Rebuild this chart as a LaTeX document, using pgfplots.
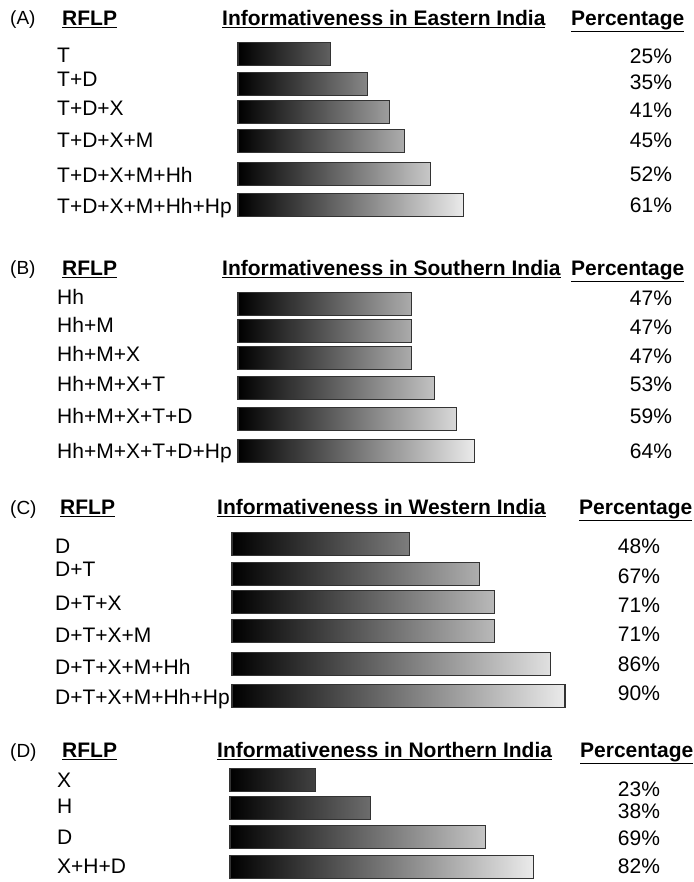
\documentclass[border=0pt]{standalone}
\usepackage{fontspec}
\setmainfont{Liberation Sans}
\usepackage{pgfplots}
\pgfplotsset{compat=1.18}
\newcommand\fnt{\fontsize{21}{25}\selectfont}
\newcommand\lab[3]{\node[anchor=base west, inner sep=0pt, font=\fnt] at (#1pt,{-(#2+7.5)*1pt}) {#3};}
\newcommand\pct[3]{\node[anchor=base, inner sep=0pt, font=\fnt] at (#1pt,{-(#2+7.5)*1pt}) {#3};}
\newcommand\hd[3]{\node[anchor=base west, inner sep=0pt, font=\bfseries\fnt] at (#1pt,{-(#2+7.5)*1pt}) {\underline{#3}};}
\newcommand\pan[3]{\node[anchor=base west, inner sep=0pt, font=\fontsize{19}{23}\selectfont] at (#1pt,{-(#2+7)*1pt}) {#3};}
\pgfplotsset{panel/.style={hide axis, xbar, y dir=reverse, x=3.7pt, y=1pt,
  xmin=0, xmax=120, ymin=0, ymax=882, enlargelimits=false,
  anchor=north west, clip=false, bar width=23pt},
  gbar/.style={draw=black!80, line width=1.1pt, left color=black, right color=white!92!black}}
\begin{document}
\begin{tikzpicture}
\useasboundingbox (0pt,0pt) rectangle (693pt,-882pt);
% Panel A
\begin{axis}[panel, at={(238pt,0pt)}]
\addplot[gbar] coordinates {(25,54) (35,84) (41,112) (45,141) (52,174) (61,205)};
\end{axis}
% Panel B
\begin{axis}[panel, at={(238pt,0pt)}]
\addplot[gbar] coordinates {(47,304) (47,331) (47,358) (53,388) (59,419) (64,451)};
\end{axis}
% Panel C
\begin{axis}[panel, at={(232pt,0pt)}]
\addplot[gbar] coordinates {(48,544) (67,574) (71,602) (71,631) (86,664) (90,696)};
\end{axis}
% Panel D
\begin{axis}[panel, at={(230pt,0pt)}]
\addplot[gbar] coordinates {(23,780) (38,808) (69,837) (82,867)};
\end{axis}
% Headers
\pan{10}{18}{(A)} \hd{62}{18}{RFLP} \hd{222}{18}{Informativeness in Eastern India} \hd{571}{18}{Percentage}
\pan{10}{268}{(B)} \hd{62}{268}{RFLP} \hd{222}{268}{Informativeness in Southern India} \hd{571}{268}{Percentage}
\pan{10}{507}{(C)} \hd{60}{507}{RFLP} \hd{217}{507}{Informativeness in Western India} \hd{579}{507}{Percentage}
\pan{10}{750}{(D)} \hd{62}{750}{RFLP} \hd{217}{750}{Informativeness in Northern India} \hd{580}{750}{Percentage}
% Labels A
\lab{57}{55}{T} \lab{57}{79}{T+D} \lab{57}{108}{T+D+X} \lab{57}{140}{T+D+X+M} \lab{57}{175}{T+D+X+M+Hh} \lab{57}{206}{T+D+X+M+Hh+Hp}
\pct{651}{56}{25\%} \pct{651}{82}{35\%} \pct{651}{110}{41\%} \pct{651}{140}{45\%} \pct{651}{174}{52\%} \pct{651}{205}{61\%}
% Labels B
\lab{57}{297}{Hh} \lab{57}{325}{Hh+M} \lab{57}{354}{Hh+M+X} \lab{57}{384}{Hh+M+X+T} \lab{57}{416}{Hh+M+X+T+D} \lab{57}{451}{Hh+M+X+T+D+Hp}
\pct{651}{298}{47\%} \pct{651}{327}{47\%} \pct{651}{356}{47\%} \pct{651}{384}{53\%} \pct{651}{416}{59\%} \pct{651}{451}{64\%}
% Labels C
\lab{55}{546}{D} \lab{55}{569}{D+T} \lab{55}{603}{D+T+X} \lab{55}{635}{D+T+X+M} \lab{55}{667}{D+T+X+M+Hh} \lab{55}{697}{D+T+X+M+Hh+Hp}
\pct{639}{546}{48\%} \pct{639}{576}{67\%} \pct{639}{605}{71\%} \pct{639}{634}{71\%} \pct{639}{664}{86\%} \pct{639}{693}{90\%}
% Labels D
\lab{57}{780}{X} \lab{57}{806}{H} \lab{57}{837}{D} \lab{57}{866}{X+H+D}
\pct{639}{789}{23\%} \pct{639}{811}{38\%} \pct{639}{838}{69\%} \pct{639}{866}{82\%}
\end{tikzpicture}
\end{document}
